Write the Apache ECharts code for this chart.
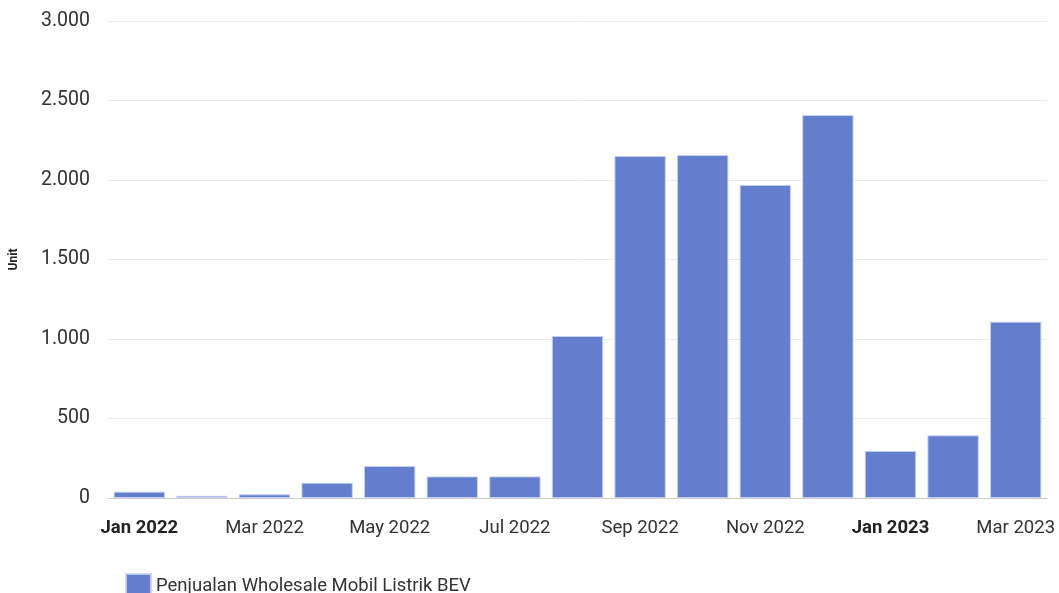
<!DOCTYPE html>
<html>
<head>
<meta charset="utf-8">
<script src="https://cdn.jsdelivr.net/npm/echarts@6/dist/echarts.min.js"></script>
<style>
html,body{margin:0;padding:0;background:#fff;}
#c{width:1059px;height:593px;}
</style>
</head>
<body>
<div id="c"></div>
<script>
const categories = ["Jan 2022","Feb 2022","Mar 2022","Apr 2022","May 2022","Jun 2022","Jul 2022","Aug 2022","Sep 2022","Oct 2022","Nov 2022","Dec 2022","Jan 2023","Feb 2023","Mar 2023"];
const values = [40, 14, 23, 96, 201, 136, 136, 1019, 2151, 2157, 1969, 2409, 296, 394, 1109];
const seriesName = "Penjualan Wholesale Mobil Listrik BEV";
const yAxisName = "Unit";

const chart = echarts.init(document.getElementById('c'));
chart.setOption({
  animation: false,
  textStyle: { fontFamily: 'Roboto' },
  grid: { left: 108, right: 12, top: 21, bottom: 95, containLabel: false },
  legend: {
    left: 125, top: 573, padding: 0,
    itemWidth: 25, itemHeight: 24, itemGap: 8,
    icon: 'rect',
    textStyle: { fontSize: 18.5, color: '#333', fontFamily: 'Roboto' },
    data: [seriesName]
  },
  xAxis: {
    type: 'category',
    data: categories,
    axisTick: { show: false },
    axisLine: { lineStyle: { color: '#ccc' } },
    axisLabel: {
      interval: 1,
      margin: 21,
      fontSize: 18.5,
      color: '#333',
      formatter: function (v) {
        return v.startsWith('Jan') ? '{b|' + v + '}' : v;
      },
      rich: { b: { fontWeight: 'bold', fontSize: 18.5, color: '#222', fontFamily: 'Roboto' } }
    }
  },
  yAxis: {
    type: 'value',
    min: 0, max: 3000, interval: 500,
    name: yAxisName,
    nameLocation: 'middle',
    nameGap: 88,
    nameRotate: 90,
    nameTextStyle: { fontWeight: 'bold', fontSize: 12, color: '#222' },
    axisLine: { show: false },
    axisTick: { show: false },
    splitLine: { lineStyle: { color: '#ebebeb' } },
    axisLabel: {
      margin: 18,
      fontSize: 19.5,
      color: '#333',
      formatter: function (v) { return v.toLocaleString('de-DE'); }
    }
  },
  series: [{
    name: seriesName,
    type: 'bar',
    data: values,
    barCategoryGap: '18%',
    itemStyle: { color: '#627ecc', borderColor: 'rgba(200,210,240,0.9)', borderWidth: 1 }
  }]
});
</script>
</body>
</html>
